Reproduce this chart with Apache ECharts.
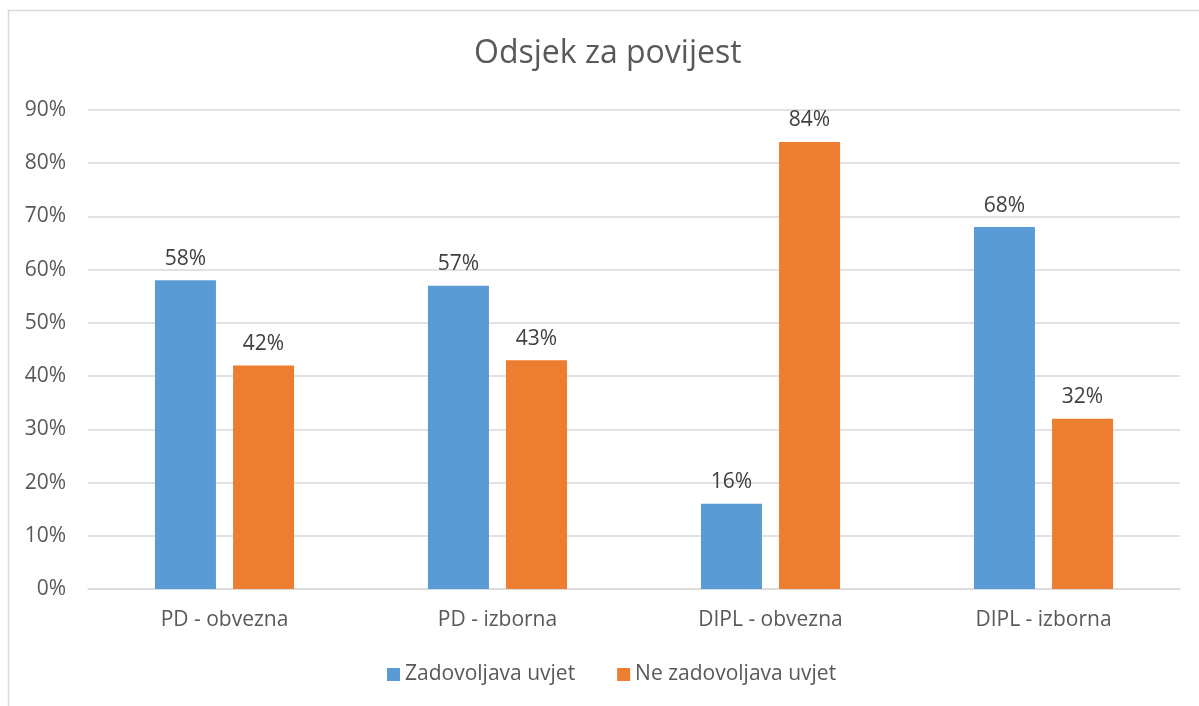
<!DOCTYPE html>
<html>
<head>
<meta charset="utf-8">
<script src="https://cdn.jsdelivr.net/npm/echarts@6/dist/echarts.min.js"></script>
<style>
  html, body { margin: 0; padding: 0; background: #fff; }
  #chart { width: 1199px; height: 706px; }
</style>
</head>
<body>
<div id="chart"></div>
<script>
'use strict';
var categories = ['PD - obvezna', 'PD - izborna', 'DIPL - obvezna', 'DIPL - izborna'];
var seriesNames = ['Zadovoljava uvjet', 'Ne zadovoljava uvjet'];
var zadovoljava = [58, 57, 16, 68];
var neZadovoljava = [42, 43, 84, 32];

var chart = echarts.init(document.getElementById('chart'));
var FONT = 'Open Sans';
var TXT = '#595959';

var labelOpt = {
  show: true,
  position: 'top',
  distance: 11,
  formatter: '{c}%',
  color: '#404040',
  fontSize: 21,
  fontFamily: FONT
};

chart.setOption({
  animation: false,
  textStyle: { fontFamily: FONT },
  graphic: [{
    type: 'rect',
    shape: { x: 8.5, y: 10.5, width: 1200, height: 720 },
    style: { fill: 'none', stroke: '#d9d9d9', lineWidth: 1.5 },
    silent: true
  }],
  // the chart frame runs past the right edge, so title/legend sit a bit right of centre
  title: {
    text: 'Odsjek za povijest',
    left: 474,
    top: 38,
    padding: 0,
    textStyle: { fontSize: 32, fontWeight: 'normal', color: TXT, fontFamily: FONT }
  },
  legend: {
    data: seriesNames,
    bottom: 21,
    left: 387,
    padding: 0,
    itemWidth: 13,
    itemHeight: 13,
    itemGap: 42,
    icon: 'rect',
    textStyle: { fontSize: 21, color: TXT, fontFamily: FONT }
  },
  grid: { left: 88, right: 19, top: 110, bottom: 117 },
  xAxis: {
    type: 'category',
    data: categories,
    axisTick: { show: false },
    axisLine: { lineStyle: { color: '#d9d9d9', width: 1.5 } },
    axisLabel: { fontSize: 21, color: TXT, fontFamily: FONT, margin: 21 }
  },
  yAxis: {
    type: 'value',
    min: 0,
    max: 90,
    interval: 10,
    axisLine: { show: false },
    axisTick: { show: false },
    splitLine: { lineStyle: { color: '#d9d9d9', width: 1.5 } },
    axisLabel: { formatter: '{value}%', fontSize: 21, color: TXT, fontFamily: FONT, margin: 22 }
  },
  series: [{
    name: seriesNames[0],
    type: 'bar',
    data: zadovoljava,
    barWidth: 61,
    barGap: '28%',
    itemStyle: { color: '#5b9bd5' },
    label: labelOpt
  }, {
    name: seriesNames[1],
    type: 'bar',
    data: neZadovoljava,
    barWidth: 61,
    itemStyle: { color: '#ed7d31' },
    label: labelOpt
  }]
});
</script>
</body>
</html>
